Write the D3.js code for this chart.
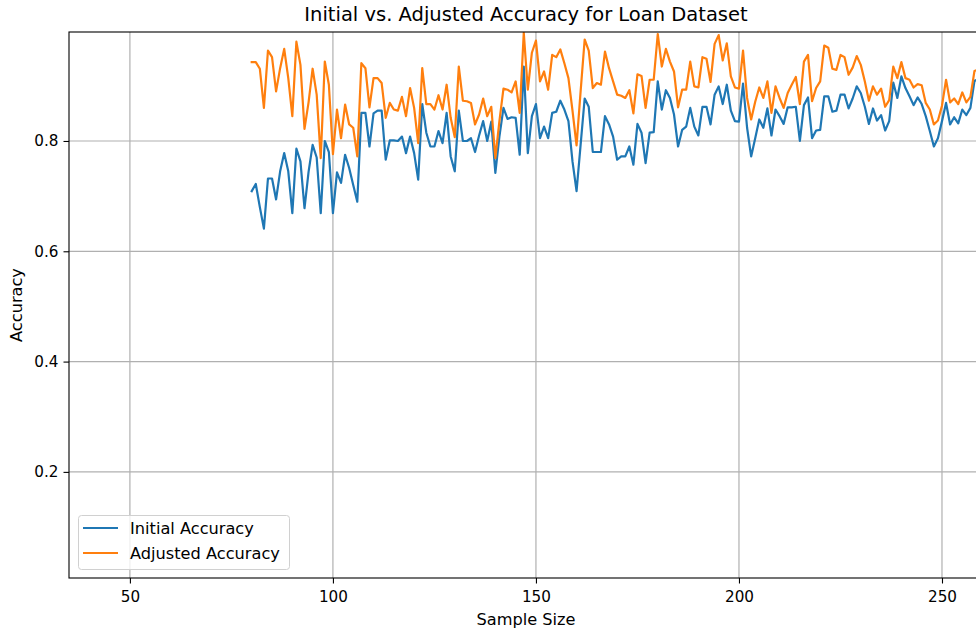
<!DOCTYPE html>
<html><head><meta charset="utf-8">
<script src="https://cdn.jsdelivr.net/npm/d3@7"></script>
<style>body{margin:0;background:#fff;overflow:hidden}svg{display:block}text{font-family:"DejaVu Sans",sans-serif;fill:#000}</style>
</head><body>
<script>
const sampleSizes = d3.range(80, 260);
const initialAccuracy = [
0.709,0.722,0.68,0.641,0.732,0.732,0.694,0.745,0.778,0.745,
0.669,0.786,0.763,0.678,0.744,0.793,0.77,0.669,0.80,0.78,
0.669,0.743,0.724,0.775,0.751,0.72,0.69,0.851,0.851,0.79,
0.85,0.855,0.855,0.766,0.801,0.801,0.80,0.808,0.778,0.808,
0.778,0.73,0.867,0.815,0.79,0.79,0.818,0.796,0.851,0.772,
0.745,0.855,0.80,0.80,0.805,0.78,0.81,0.836,0.80,0.835,
0.742,0.808,0.86,0.84,0.843,0.842,0.775,0.935,0.778,0.845,
0.867,0.805,0.826,0.805,0.851,0.853,0.873,0.857,0.836,0.763,
0.709,0.793,0.877,0.862,0.78,0.78,0.78,0.845,0.83,0.808,
0.766,0.772,0.772,0.79,0.757,0.831,0.815,0.76,0.815,0.816,
0.908,0.857,0.892,0.878,0.848,0.79,0.82,0.826,0.86,0.826,
0.81,0.862,0.862,0.83,0.884,0.899,0.867,0.902,0.855,0.836,
0.835,0.904,0.824,0.772,0.805,0.839,0.824,0.859,0.81,0.857,
0.845,0.831,0.861,0.861,0.862,0.80,0.865,0.879,0.805,0.819,
0.82,0.881,0.881,0.853,0.855,0.884,0.884,0.859,0.877,0.899,
0.887,0.862,0.831,0.859,0.837,0.847,0.819,0.836,0.906,0.878,
0.917,0.896,0.881,0.865,0.879,0.867,0.845,0.818,0.79,0.805,
0.836,0.869,0.83,0.843,0.832,0.857,0.847,0.86,0.909,0.912];
const adjustedAccuracy = [
0.943,0.943,0.931,0.86,0.964,0.952,0.89,0.932,0.967,0.914,
0.845,0.98,0.938,0.822,0.87,0.931,0.884,0.769,0.944,0.902,
0.776,0.857,0.805,0.866,0.83,0.824,0.772,0.941,0.932,0.861,
0.914,0.914,0.905,0.842,0.869,0.857,0.855,0.88,0.845,0.896,
0.86,0.796,0.932,0.867,0.867,0.857,0.883,0.857,0.902,0.842,
0.807,0.935,0.873,0.872,0.869,0.83,0.848,0.877,0.845,0.862,
0.769,0.836,0.895,0.893,0.888,0.908,0.851,0.996,0.893,0.96,
0.982,0.908,0.926,0.893,0.956,0.952,0.966,0.941,0.914,0.855,
0.792,0.89,0.984,0.964,0.896,0.905,0.902,0.962,0.932,0.908,
0.884,0.882,0.878,0.892,0.85,0.921,0.918,0.86,0.911,0.911,
0.994,0.935,0.967,0.944,0.926,0.861,0.893,0.893,0.944,0.899,
0.897,0.952,0.949,0.907,0.976,0.992,0.946,0.977,0.917,0.897,
0.895,0.964,0.878,0.839,0.871,0.897,0.878,0.908,0.851,0.899,
0.878,0.86,0.887,0.902,0.916,0.867,0.944,0.956,0.872,0.896,
0.908,0.973,0.969,0.931,0.929,0.956,0.952,0.92,0.933,0.954,
0.938,0.908,0.873,0.899,0.884,0.895,0.862,0.874,0.935,0.914,
0.943,0.914,0.911,0.897,0.903,0.901,0.869,0.857,0.83,0.837,
0.864,0.911,0.87,0.877,0.867,0.888,0.87,0.88,0.927,0.93];
const xTicks = [50, 100, 150, 200, 250];
const yTicks = [0.2, 0.4, 0.6, 0.8];
const seriesNames = ["Initial Accuracy", "Adjusted Accuracy"];
const colors = ["#1f77b4", "#ff7f0e"];

const W = 976, H = 630;
const m = {left: 69, top: 32, right: 983, bottom: 578};
const svg = d3.select("body").append("svg").attr("width", W).attr("height", H);
const x = d3.scaleLinear().domain([35.0, 260.1]).range([m.left, m.right]);
const y = d3.scaleLinear().domain([0.0076, 0.9976]).range([m.bottom, m.top]);

// grid
const g = svg.append("g");
g.selectAll("line.gx").data(xTicks).join("line")
  .attr("x1", d => x(d)).attr("x2", d => x(d)).attr("y1", m.top).attr("y2", m.bottom)
  .attr("stroke", "#b0b0b0").attr("stroke-width", 1.2);
g.selectAll("line.gy").data(yTicks).join("line")
  .attr("y1", d => y(d)).attr("y2", d => y(d)).attr("x1", m.left).attr("x2", m.right)
  .attr("stroke", "#b0b0b0").attr("stroke-width", 1.2);

svg.append("clipPath").attr("id", "clip").append("rect")
  .attr("x", m.left).attr("y", m.top).attr("width", m.right - m.left).attr("height", m.bottom - m.top);

const line = d3.line().x(d => x(d[0])).y(d => y(d[1]));
[initialAccuracy, adjustedAccuracy].forEach((vals, i) => {
  svg.append("path").attr("clip-path", "url(#clip)")
    .datum(sampleSizes.map((s, j) => [s, vals[j]]))
    .attr("d", line).attr("fill", "none").attr("stroke", colors[i])
    .attr("stroke-width", 2.2).attr("stroke-linejoin", "round").attr("stroke-linecap", "square");
});

// axes
const xAxis = d3.axisBottom(x).tickValues(xTicks).tickSize(5.5).tickPadding(7.5).tickFormat(d3.format("d"));
const gx = svg.append("g").attr("transform", `translate(0,${m.bottom})`).call(xAxis);
const yAxis = d3.axisLeft(y).tickValues(yTicks).tickSize(5.5).tickPadding(5).tickFormat(d3.format(".1f"));
const gy = svg.append("g").attr("transform", `translate(${m.left},0)`).call(yAxis);
[gx, gy].forEach(a => {
  a.select(".domain").remove();
  a.selectAll(".tick line").attr("stroke", "#000").attr("stroke-width", 1.1);
  a.selectAll(".tick text").attr("font-size", "15.2px").attr("font-family", "DejaVu Sans").attr("fill", "#000");
});
// spines
svg.append("rect").attr("x", m.left).attr("y", m.top).attr("width", m.right - m.left).attr("height", m.bottom - m.top)
  .attr("fill", "none").attr("stroke", "#000").attr("stroke-width", 1.1);

// labels
svg.append("text").attr("x", (m.left + m.right) / 2).attr("y", 21).attr("text-anchor", "middle")
  .attr("font-size", "19.5px").text("Initial vs. Adjusted Accuracy for Loan Dataset");
svg.append("text").attr("x", (m.left + m.right) / 2).attr("y", 625).attr("text-anchor", "middle")
  .attr("font-size", "16.2px").text("Sample Size");
svg.append("text").attr("transform", `translate(22,${(m.top + m.bottom) / 2}) rotate(-90)`).attr("text-anchor", "middle")
  .attr("font-size", "16.2px").text("Accuracy");

// legend
const lg = svg.append("g");
lg.append("rect").attr("x", 78.5).attr("y", 515.5).attr("width", 211).attr("height", 54).attr("rx", 3)
  .attr("fill", "#fff").attr("fill-opacity", 0.8).attr("stroke", "#d0d0d0").attr("stroke-width", 1);
seriesNames.forEach((n, i) => {
  const yy = 528 + i * 25;
  lg.append("line").attr("x1", 83).attr("x2", 118).attr("y1", yy).attr("y2", yy)
    .attr("stroke", colors[i]).attr("stroke-width", 2.2);
  lg.append("text").attr("x", 130).attr("y", yy + 6).attr("font-size", "16.2px").text(n);
});
</script>
</body></html>
